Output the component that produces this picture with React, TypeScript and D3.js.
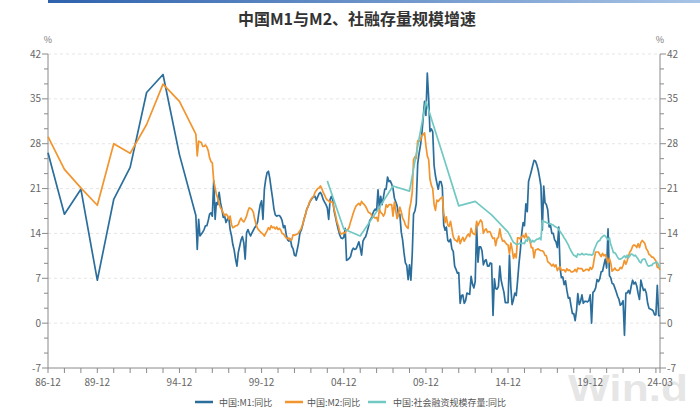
import React from "react";
import * as d3 from "d3";

// ---- data -------------------------------------------------------------
// Year-end values 1986-12 .. 1995-12 (annual observations)
const annualYears = [1986, 1987, 1988, 1989, 1990, 1991, 1992, 1993, 1994, 1995];
const m1Annual = [26.6, 17.0, 20.9, 6.7, 19.3, 24.3, 36.0, 38.8, 26.3, 16.8];
const m2Annual = [29.1, 24.0, 21.1, 18.4, 28.0, 26.5, 31.0, 37.3, 34.6, 29.5];

// Monthly values from 1996-01 to 2024-03
const m1Monthly = [
  // 1996
  11.5, 16.2, 13.6, 13.9, 14.2, 14.6, 15.2, 15.2, 16.0, 17.0, 17.2, 16.7,
  // 1997
  22.2, 16.2, 18.8, 18.5, 20.4, 18.8, 17.8, 16.5, 16.7, 15.7, 16.2, 16.5,
  // 1998
  14.6, 13.6, 12.3, 11.4, 10.0, 8.9, 11.0, 12.0, 13.0, 13.5, 12.5, 10.0,
  // 1999
  14.1, 14.6, 14.1, 13.6, 14.1, 14.5, 14.9, 15.2, 15.7, 17.2, 18.5, 19.1,
  // 2000
  16.2, 20.9, 22.4, 23.5, 23.7, 22.6, 21.0, 19.5, 17.8, 16.9, 16.7, 16.8,
  // 2001
  16.8, 16.5, 16.0, 14.9, 15.2, 13.8, 13.0, 12.8, 13.1, 12.0, 11.6, 10.6,
  // 2002
  10.5, 11.5, 12.5, 14.1, 14.5, 15.3, 16.2, 16.9, 17.8, 18.2, 18.8, 19.2,
  // 2003
  19.5, 19.7, 19.8, 19.2, 19.7, 20.2, 20.4, 20.0, 19.3, 18.9, 18.5, 18.0,
  // 2004
  16.2, 19.3, 19.8, 19.2, 17.5, 16.5, 15.5, 14.6, 13.8, 13.3, 13.2, 13.4,
  // 2005
  14.8, 9.8, 9.9, 10.1, 10.4, 11.3, 11.7, 11.5, 11.6, 12.1, 12.7, 11.8,
  // 2006
  10.6, 12.8, 13.2, 13.5, 14.2, 15.0, 16.0, 16.3, 17.0, 17.5, 17.8, 17.5,
  // 2007
  20.8, 17.8, 19.8, 18.5, 19.6, 20.9, 20.9, 22.8, 22.1, 22.2, 21.7, 21.0,
  // 2008
  19.5, 18.9, 18.3, 16.9, 17.0, 14.2, 13.0, 11.0, 9.4, 9.0, 6.8, 9.1,
  // 2009
  6.7, 10.9, 17.0, 17.5, 18.7, 24.8, 26.4, 27.7, 29.5, 32.0, 34.6, 32.4,
  // 2010
  39.0, 35.0, 29.9, 30.3, 29.9, 24.6, 23.0, 21.9, 20.9, 22.1, 22.1, 21.2,
  // 2011
  15.3, 14.5, 15.0, 12.9, 12.7, 13.1, 11.6, 11.2, 8.9, 8.4, 7.8, 7.9,
  // 2012
  3.1, 4.3, 4.4, 3.1, 3.5, 4.7, 4.6, 4.5, 7.3, 6.1, 5.5, 6.5,
  // 2013
  15.3, 9.5, 11.9, 11.9, 11.3, 9.1, 9.7, 9.9, 8.9, 8.9, 9.4, 9.3,
  // 2014
  1.2, 6.9, 5.4, 5.3, 5.7, 8.9, 6.7, 5.7, 4.8, 3.2, 3.2, 3.2,
  // 2015
  10.6, 5.6, 2.9, 3.7, 4.7, 4.3, 6.6, 9.3, 11.4, 14.0, 15.7, 15.2,
  // 2016
  18.6, 17.4, 22.1, 22.9, 23.7, 24.6, 25.4, 25.3, 24.7, 23.9, 22.7, 21.4,
  // 2017
  14.5, 21.4, 18.8, 18.5, 17.7, 15.0, 15.3, 14.0, 14.0, 13.0, 12.7, 11.8,
  // 2018
  15.0, 8.5, 7.1, 7.2, 6.0, 6.6, 5.1, 3.9, 4.0, 2.7, 1.5, 1.5,
  // 2019
  0.4, 2.0, 4.6, 2.9, 3.4, 4.4, 3.1, 3.4, 3.4, 3.3, 3.5, 4.4,
  // 2020
  0.0, 4.8, 5.0, 5.5, 6.8, 6.5, 6.9, 8.0, 8.1, 9.1, 10.0, 8.6,
  // 2021
  14.7, 7.4, 7.1, 6.2, 6.1, 5.5, 4.9, 4.2, 3.7, 2.8, 3.0, 3.5,
  // 2022
  -1.9, 4.7, 4.7, 5.1, 4.6, 5.8, 6.7, 6.1, 6.4, 5.8, 4.6, 3.7,
  // 2023
  6.7, 5.8, 5.1, 5.3, 4.7, 3.1, 2.3, 2.2, 2.1, 1.9, 1.3, 1.3,
  // 2024
  5.9, 1.2, 1.1,
];

const m2Monthly = [
  // 1996
  26.1, 28.4, 28.3, 28.2, 27.6, 27.6, 27.8, 27.5, 26.9, 25.8, 25.2, 25.0,
  // 1997
  22.2, 21.1, 20.1, 19.5, 18.6, 18.0, 17.7, 17.2, 16.8, 17.0, 16.8, 16.2,
  // 1998
  16.7, 15.4, 14.9, 15.0, 15.2, 15.2, 15.4, 16.0, 16.4, 16.0, 15.8, 16.2,
  // 1999
  16.7, 17.5, 18.0, 17.9, 17.7, 17.3, 16.2, 15.4, 14.8, 14.5, 14.3, 14.1,
  // 2000
  13.9, 13.6, 14.0, 14.4, 14.9, 14.6, 15.2, 14.9, 15.0, 14.7, 15.0, 14.6,
  // 2001
  14.8, 14.5, 14.0, 13.9, 13.6, 13.3, 13.2, 13.3, 12.9, 13.0, 13.8, 13.7,
  // 2002
  13.8, 13.9, 14.1, 14.4, 14.8, 15.4, 16.2, 16.9, 17.8, 18.2, 18.9, 19.3,
  // 2003
  19.6, 19.8, 20.4, 20.7, 21.0, 21.1, 21.4, 21.0, 20.4, 20.0, 19.5, 19.2,
  // 2004
  19.1, 18.8, 19.0, 18.8, 17.8, 16.9, 15.8, 15.2, 14.3, 13.9, 14.0, 14.1,
  // 2005
  14.1, 14.5, 14.6, 15.0, 15.8, 16.5, 17.2, 17.8, 18.3, 18.5, 18.7, 18.4,
  // 2006
  19.0, 18.7, 18.5, 18.2, 17.8, 17.3, 17.2, 17.0, 16.5, 16.6, 16.4, 16.5,
  // 2007
  15.9, 17.8, 17.3, 17.1, 16.7, 17.1, 18.5, 18.1, 18.5, 18.5, 18.5, 16.7,
  // 2008
  18.9, 17.5, 16.3, 16.9, 18.1, 17.4, 16.4, 16.0, 15.3, 15.0, 14.8, 17.8,
  // 2009
  18.8, 20.5, 25.5, 26.0, 25.7, 28.5, 28.4, 28.5, 29.3, 29.4, 29.7, 27.7,
  // 2010
  26.1, 25.5, 22.5, 21.5, 21.0, 18.5, 17.6, 19.2, 19.0, 19.3, 19.5, 19.7,
  // 2011
  17.2, 15.7, 16.6, 15.3, 15.1, 15.9, 14.7, 13.5, 13.0, 12.9, 12.7, 13.6,
  // 2012
  12.4, 13.0, 13.4, 12.8, 13.2, 13.6, 13.9, 13.5, 14.8, 14.1, 13.9, 13.8,
  // 2013
  15.9, 15.2, 15.7, 16.1, 15.8, 14.0, 14.5, 14.7, 14.2, 14.3, 14.2, 13.6,
  // 2014
  13.2, 13.3, 12.1, 13.2, 13.4, 14.7, 13.5, 12.8, 12.9, 12.6, 12.3, 12.2,
  // 2015
  10.8, 12.5, 11.6, 10.1, 10.8, 10.2, 13.3, 13.3, 13.1, 13.5, 13.7, 13.3,
  // 2016
  14.0, 13.3, 13.4, 12.8, 11.8, 11.8, 10.2, 11.4, 11.5, 11.6, 11.4, 11.3,
  // 2017
  11.3, 11.1, 10.6, 10.5, 9.6, 9.4, 9.2, 8.9, 9.2, 8.8, 9.1, 8.2,
  // 2018
  8.6, 8.8, 8.2, 8.3, 8.3, 8.0, 8.5, 8.2, 8.3, 8.0, 8.0, 8.1,
  // 2019
  8.4, 8.0, 8.6, 8.5, 8.5, 8.5, 8.1, 8.2, 8.4, 8.4, 8.2, 8.7,
  // 2020
  8.4, 8.8, 10.1, 11.1, 11.1, 11.1, 10.7, 10.4, 10.9, 10.5, 10.7, 10.1,
  // 2021
  9.4, 10.1, 9.4, 8.1, 8.3, 8.6, 8.3, 8.2, 8.3, 8.7, 8.5, 9.0,
  // 2022
  9.8, 9.2, 9.7, 10.5, 11.1, 11.4, 12.0, 12.2, 12.1, 11.8, 12.4, 11.8,
  // 2023
  12.6, 12.9, 12.7, 12.4, 11.6, 11.3, 10.7, 10.6, 10.3, 10.3, 10.0, 9.7,
  // 2024
  8.7, 8.7, 8.3,
];

// Aggregate financing stock growth: year-end 2003..2014, then monthly from 2015-01
const sfAnnualYears = [2003, 2004, 2005, 2006, 2007, 2008, 2009, 2010, 2011, 2012, 2013, 2014];
const sfAnnual = [22.2, 14.7, 13.6, 17.4, 21.4, 20.6, 34.6, 26.5, 18.3, 19.0, 16.9, 14.2];
const sfMonthly = [
  // 2015
  13.8, 13.4, 13.0, 12.6, 12.5, 12.3, 12.3, 12.4, 12.5, 12.4, 12.5, 12.4,
  // 2016
  13.0, 12.8, 13.4, 13.1, 12.6, 12.9, 12.7, 12.9, 13.1, 13.1, 13.3, 13.0,
  // 2017
  16.0, 15.9, 15.8, 15.7, 15.6, 15.5, 15.5, 15.4, 15.3, 15.1, 15.0, 14.9,
  // 2018
  14.6, 14.3, 14.0, 13.7, 13.3, 13.0, 12.6, 12.2, 11.7, 11.3, 10.9, 10.6,
  // 2019
  10.5, 10.3, 10.8, 10.7, 10.7, 10.9, 10.7, 10.7, 10.8, 10.7, 10.7, 10.7,
  // 2020
  10.6, 10.7, 11.5, 12.0, 12.5, 12.8, 12.9, 13.3, 13.5, 13.7, 13.6, 13.3,
  // 2021
  13.0, 13.3, 12.3, 11.7, 11.0, 11.0, 10.7, 10.3, 10.0, 10.0, 10.1, 10.3,
  // 2022
  10.5, 10.2, 10.6, 10.2, 10.5, 10.8, 10.7, 10.5, 10.6, 10.3, 10.0, 9.6,
  // 2023
  9.4, 9.9, 10.0, 10.0, 9.5, 9.0, 8.9, 9.0, 9.0, 9.3, 9.4, 9.5,
  // 2024
  9.5, 9.0, 8.7,
];

const yTickValues = [-7, 0, 7, 14, 21, 28, 35, 42];
const xLabelDates = ["86-12", "89-12", "94-12", "99-12", "04-12", "09-12", "14-12", "19-12", "24-03"];

const seriesNames = ["中国:M1:同比", "中国:M2:同比", "中国:社会融资规模存量:同比"];
const seriesColors = ["#2b6e9c", "#f2952e", "#72c8c2"];
const titleText = "中国M1与M2、社融存量规模增速";

// ---- helpers ----------------------------------------------------------
type Pt = { date: Date; value: number };

const yearEnd = (yr: number) => new Date(yr, 11, 1);
const monthly = (startYear: number, startMonth: number, vals: number[]): Pt[] =>
  vals.map((v, i) => ({ date: new Date(startYear, startMonth - 1 + i, 1), value: v }));
const annual = (years: number[], vals: number[]): Pt[] =>
  years.map((yr, i) => ({ date: yearEnd(yr), value: vals[i] }));
const parseLabel = (s: string) => {
  const [yy, mm] = s.split("-").map(Number);
  const yr = yy > 50 ? 1900 + yy : 2000 + yy;
  return new Date(yr, mm - 1, 1);
};

const m1Series = [...annual(annualYears, m1Annual), ...monthly(1996, 1, m1Monthly)];
const m2Series = [...annual(annualYears, m2Annual), ...monthly(1996, 1, m2Monthly)];
const sfSeries = [...annual(sfAnnualYears, sfAnnual), ...monthly(2015, 1, sfMonthly)];

// ---- layout -----------------------------------------------------------
const W = 700;
const H = 410;
const plotL = 48;
const plotR = 660;
const plotT = 54;
const plotB = 368;
const font = "'Noto Sans CJK SC', 'Noto Sans', sans-serif";

export default function App() {
  const x = d3.scaleTime().domain([new Date(1986, 11, 1), new Date(2024, 2, 1)]).range([plotL, plotR]);
  const y = d3.scaleLinear().domain([-7, 42]).range([plotB, plotT]);

  const line = d3
    .line<Pt>()
    .x((d) => x(d.date))
    .y((d) => y(d.value));

  const minorY = d3
    .range(0, 22)
    .map((i) => -7 + (i * 7) / 3)
    .filter((v) => !yTickValues.some((t) => Math.abs(t - v) < 1e-6));

  const yearTicks = [...d3.range(1986, 2024).map(yearEnd), new Date(2024, 2, 1)];

  const legendItems = [
    { x: 195, tx: 219 },
    { x: 285, tx: 307 },
    { x: 368, tx: 393 },
  ];

  return (
    <svg
      width={W}
      height={H}
      viewBox={`0 0 ${W} ${H}`}
      style={{ position: "absolute", left: 0, top: 0, background: "#fff", fontFamily: font }}
    >
      <defs>
        <linearGradient id="topBar" x1="0" x2="1" y1="0" y2="0">
          <stop offset="0" stopColor="#2f62ad" />
          <stop offset="1" stopColor="#a8c4e6" />
        </linearGradient>
      </defs>
      <rect x={48} y={0} width={W - 48} height={3} fill="url(#topBar)" />

      {/* watermark, behind everything else */}
      <text
        x={568}
        y={401}
        fontSize={36}
        fill="#d6d6d6"
        fillOpacity={0.6}
        fontFamily="'Liberation Sans', Arial, sans-serif"
        fontWeight="bold"
        textLength={120}
        lengthAdjust="spacingAndGlyphs"
      >
        Win.d
      </text>

      {/* title */}
      <text x={357} y={25} textAnchor="middle" fontSize={16} fontWeight="bold" fill="#333">
        {titleText}
      </text>

      {/* unit labels */}
      <text x={plotL} y={43} textAnchor="middle" fontSize={9} fill="#777">%</text>
      <text x={plotR} y={43} textAnchor="middle" fontSize={9} fill="#777">%</text>

      {/* horizontal grid */}
      {yTickValues
        .filter((v) => v > -7)
        .map((v) => (
          <line key={`g${v}`} x1={plotL} x2={plotR} y1={y(v)} y2={y(v)} stroke="#dedede" strokeWidth={0.8} strokeDasharray="3,3" />
        ))}

      {/* axes */}
      <g stroke="#8a8a8a" strokeWidth={1} fill="none">
        <line x1={plotL} x2={plotL} y1={plotT} y2={plotB} />
        <line x1={plotR} x2={plotR} y1={plotT} y2={plotB} />
        <line x1={plotL} x2={plotR} y1={plotB} y2={plotB} />
        {yTickValues.map((v) => (
          <g key={`t${v}`}>
            <line x1={plotL - 6} x2={plotL} y1={y(v)} y2={y(v)} />
            <line x1={plotR} x2={plotR + 6} y1={y(v)} y2={y(v)} />
          </g>
        ))}
        {minorY.map((v, i) => (
          <g key={`m${i}`}>
            <line x1={plotL - 4} x2={plotL} y1={y(v)} y2={y(v)} />
            <line x1={plotR} x2={plotR + 4} y1={y(v)} y2={y(v)} />
          </g>
        ))}
        {yearTicks.map((d, i) => (
          <line key={`x${i}`} x1={x(d)} x2={x(d)} y1={plotB} y2={plotB + 5} />
        ))}
      </g>

      {/* tick labels */}
      {yTickValues.map((v) => (
        <g key={`l${v}`} fontSize={10} fill="#666">
          <text x={plotL - 7} y={y(v) + 3.5} textAnchor="end">{v}</text>
          <text x={plotR + 7} y={y(v) + 3.5} textAnchor="start">{v}</text>
        </g>
      ))}
      {xLabelDates.map((s) => (
        <text key={s} x={x(parseLabel(s))} y={386} textAnchor="middle" fontSize={10} fill="#666">
          {s}
        </text>
      ))}

      {/* series */}
      <g fill="none" strokeWidth={1.7} strokeLinejoin="round">
        <path d={line(m1Series) ?? ""} stroke={seriesColors[0]} />
        <path d={line(m2Series) ?? ""} stroke={seriesColors[1]} />
        <path d={line(sfSeries) ?? ""} stroke={seriesColors[2]} />
      </g>

      {/* legend */}
      {legendItems.map((it, i) => (
        <g key={seriesNames[i]}>
          <line x1={it.x} x2={it.x + 18} y1={402} y2={402} stroke={seriesColors[i]} strokeWidth={2.5} />
          <text x={it.tx} y={405.5} fontSize={9} fill="#555">{seriesNames[i]}</text>
        </g>
      ))}
    </svg>
  );
}
